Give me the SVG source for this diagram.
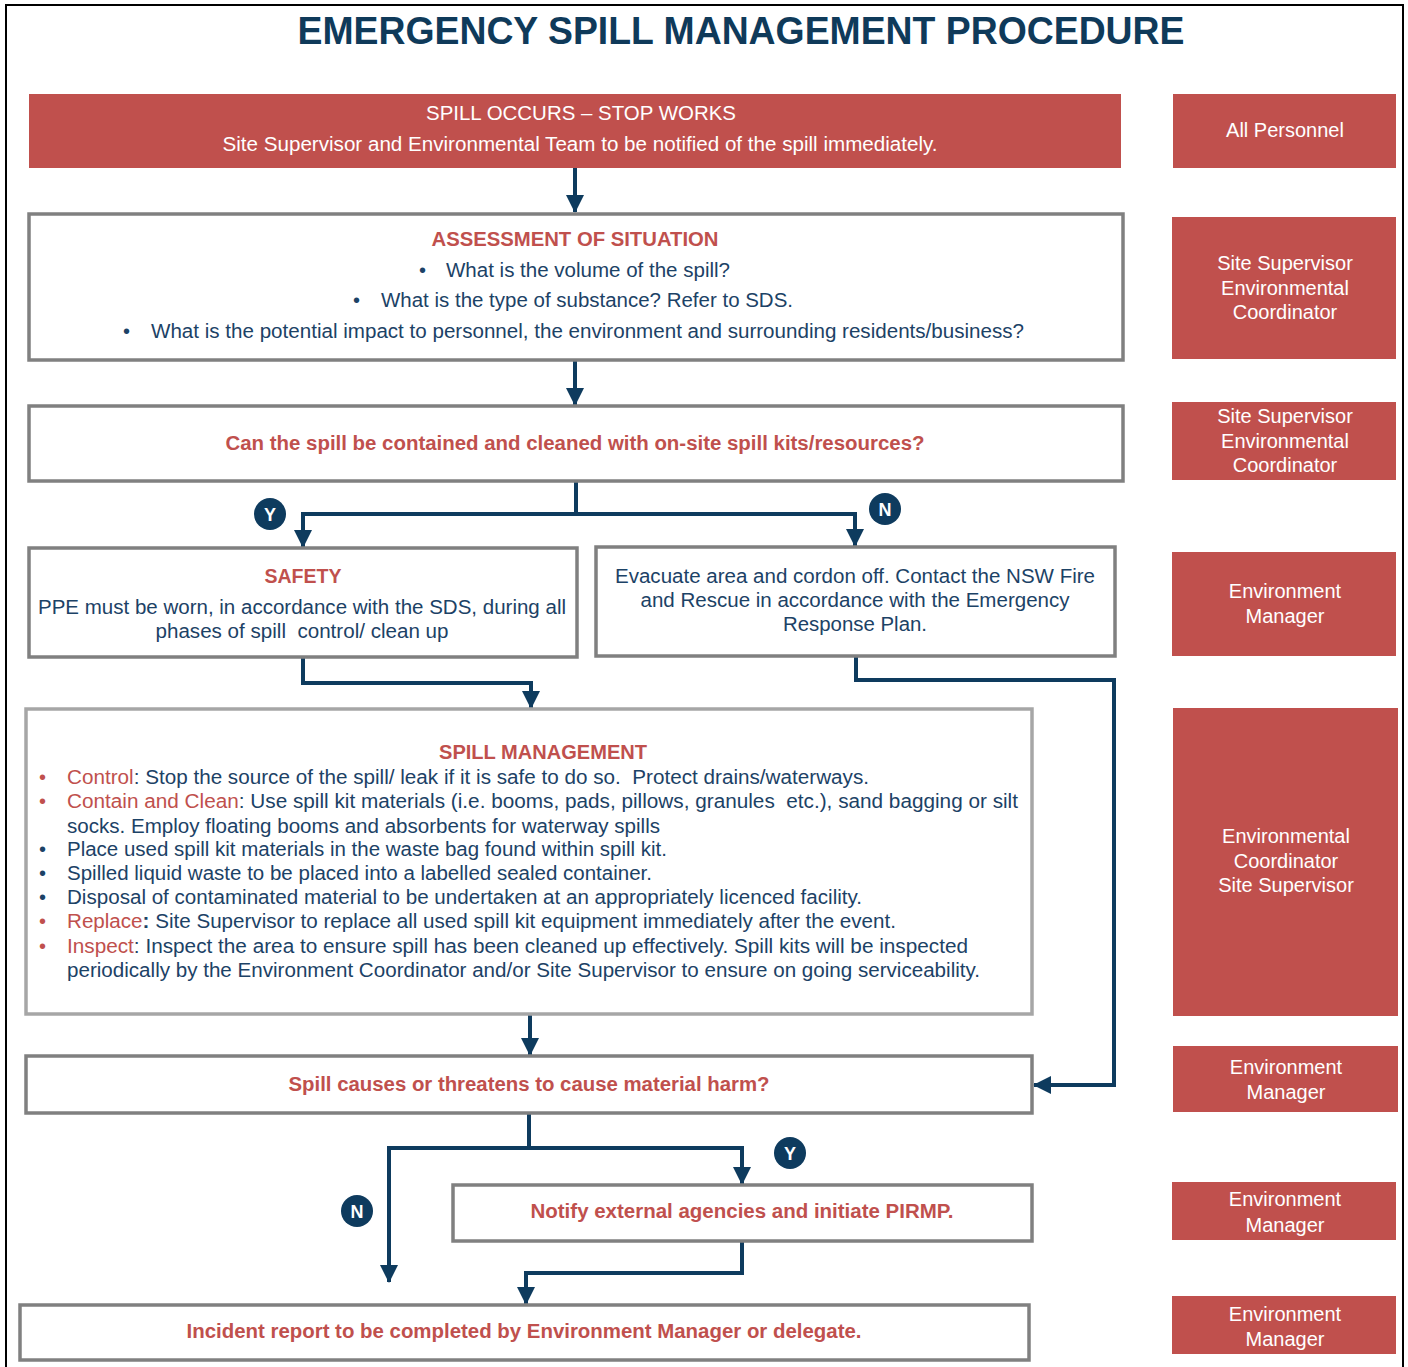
<svg xmlns="http://www.w3.org/2000/svg" width="1408" height="1367" viewBox="0 0 1408 1367">
<style>
.bg{fill:#ffffff}
.frame{fill:none;stroke:#000;stroke-width:2}
.title{font-family:"Liberation Sans",Arial,sans-serif;font-weight:bold;font-size:38px;fill:#0f3a5a}
.red{fill:#c0504d}
.role{font-family:"Liberation Sans",Arial,sans-serif;font-size:20px;fill:#ffffff}
.hdr{font-family:"Liberation Sans",Arial,sans-serif;font-size:20px;fill:#ffffff}
.box{fill:#ffffff;stroke:#808080;stroke-width:3.5}
.box2{fill:#ffffff;stroke:#a6a6a6;stroke-width:3.5}
.t{font-family:"Liberation Sans",Arial,sans-serif;font-size:20px;fill:#1c4266}
.rt{font-family:"Liberation Sans",Arial,sans-serif;font-size:20px;fill:#c0504d}
.rh{font-family:"Liberation Sans",Arial,sans-serif;font-size:20px;font-weight:bold;fill:#c0504d}
.rb{font-family:"Liberation Sans",Arial,sans-serif;font-size:20px;font-weight:bold;fill:#c0504d}
.k{fill:#c0504d}
.conn{fill:none;stroke:#0e3b5e;stroke-width:4;stroke-linejoin:miter}
.badge{fill:#0e3b5e}
.bt{font-family:"Liberation Sans",Arial,sans-serif;font-size:18px;font-weight:bold;fill:#ffffff}
</style>
<defs>
<marker id="ah" markerUnits="userSpaceOnUse" markerWidth="18" markerHeight="18" refX="17" refY="9" orient="auto">
<path d="M0,0 L18,9 L0,18 z" fill="#0e3b5e"/>
</marker>
</defs>
<rect class="bg" x="0" y="0" width="1408" height="1367"/>
<path class="frame" d="M6,1367 V5 H1403 V1367"/>
<text class="title" x="741" y="44" text-anchor="middle" textLength="887" lengthAdjust="spacingAndGlyphs">EMERGENCY SPILL MANAGEMENT PROCEDURE</text>

<g id="connectors">
<path class="conn" d="M575,168 V212" marker-end="url(#ah)"/>
<path class="conn" d="M575,360 V405" marker-end="url(#ah)"/>
<path class="conn" d="M576,481 V514 H303 V547" marker-end="url(#ah)"/>
<path class="conn" d="M576,514 H855 V546" marker-end="url(#ah)"/>
<path class="conn" d="M303,657 V683 H531 V708" marker-end="url(#ah)"/>
<path class="conn" d="M856,656 V680 H1114 V1085 H1034" marker-end="url(#ah)"/>
<path class="conn" d="M530,1014 V1055" marker-end="url(#ah)"/>
<path class="conn" d="M529,1113 V1148 H742 V1184" marker-end="url(#ah)"/>
<path class="conn" d="M529,1148 H389 V1282" marker-end="url(#ah)"/>
<path class="conn" d="M742,1241 V1273 H526 V1304" marker-end="url(#ah)"/>
<circle class="badge" cx="270" cy="514" r="16"/>
<text class="bt" x="270" y="521" text-anchor="middle">Y</text>
<circle class="badge" cx="885" cy="509" r="16"/>
<text class="bt" x="885" y="516" text-anchor="middle">N</text>
<circle class="badge" cx="790" cy="1153" r="16"/>
<text class="bt" x="790" y="1160" text-anchor="middle">Y</text>
<circle class="badge" cx="357" cy="1211" r="16"/>
<text class="bt" x="357" y="1218" text-anchor="middle">N</text>
</g>

<g id="spill-occurs">
<rect class="red" x="29" y="94" width="1092" height="74"/>
<text class="hdr" x="581" y="120" text-anchor="middle" textLength="310" lengthAdjust="spacingAndGlyphs">SPILL OCCURS – STOP WORKS</text>
<text class="hdr" x="580" y="151" text-anchor="middle" textLength="715" lengthAdjust="spacingAndGlyphs">Site Supervisor and Environmental Team to be notified of the spill immediately.</text>
</g>

<g id="assessment">
<rect class="box" x="29" y="214" width="1094" height="146"/>
<text class="rh" x="575" y="246" text-anchor="middle" textLength="287" lengthAdjust="spacingAndGlyphs">ASSESSMENT OF SITUATION</text>
<text class="t" x="419" y="277">•</text>
<text class="t" x="446" y="277" textLength="284" lengthAdjust="spacingAndGlyphs">What is the volume of the spill?</text>
<text class="t" x="353" y="307">•</text>
<text class="t" x="381" y="307" textLength="412" lengthAdjust="spacingAndGlyphs">What is the type of substance? Refer to SDS.</text>
<text class="t" x="123" y="338">•</text>
<text class="t" x="151" y="338" textLength="873" lengthAdjust="spacingAndGlyphs">What is the potential impact to personnel, the environment and surrounding residents/business?</text>
</g>

<g id="contain-decision">
<rect class="box" x="29" y="406" width="1094" height="75"/>
<text class="rb" x="575" y="450" text-anchor="middle" textLength="699" lengthAdjust="spacingAndGlyphs">Can the spill be contained and cleaned with on-site spill kits/resources?</text>
</g>

<g id="safety">
<rect class="box" x="29" y="548" width="548" height="109"/>
<text class="rh" x="303" y="583" text-anchor="middle" textLength="77" lengthAdjust="spacingAndGlyphs">SAFETY</text>
<text class="t" x="302" y="614" text-anchor="middle" textLength="528" lengthAdjust="spacingAndGlyphs">PPE must be worn, in accordance with the SDS, during all</text>
<text class="t" x="302" y="638" text-anchor="middle" xml:space="preserve" textLength="293" lengthAdjust="spacingAndGlyphs">phases of spill  control/ clean up</text>
</g>

<g id="evacuate">
<rect class="box" x="596" y="547" width="519" height="109"/>
<text class="t" x="855" y="583" text-anchor="middle" textLength="480" lengthAdjust="spacingAndGlyphs">Evacuate area and cordon off. Contact the NSW Fire</text>
<text class="t" x="855" y="607" text-anchor="middle" textLength="429" lengthAdjust="spacingAndGlyphs">and Rescue in accordance with the Emergency</text>
<text class="t" x="855" y="631" text-anchor="middle" textLength="144" lengthAdjust="spacingAndGlyphs">Response Plan.</text>
</g>

<g id="spill-management">
<rect class="box2" x="26" y="709" width="1006" height="305"/>
<text class="rh" x="543" y="759" text-anchor="middle" textLength="208" lengthAdjust="spacingAndGlyphs">SPILL MANAGEMENT</text>
<text class="rt" x="39" y="784">•</text>
<text class="t" x="67" y="784" xml:space="preserve" textLength="802" lengthAdjust="spacingAndGlyphs"><tspan class="k">Control</tspan>: Stop the source of the spill/ leak if it is safe to do so.  Protect drains/waterways.</text>
<text class="rt" x="39" y="808">•</text>
<text class="t" x="67" y="808" xml:space="preserve" textLength="951" lengthAdjust="spacingAndGlyphs"><tspan class="k">Contain and Clean</tspan>: Use spill kit materials (i.e. booms, pads, pillows, granules  etc.), sand bagging or silt</text>
<text class="t" x="67" y="833" textLength="593" lengthAdjust="spacingAndGlyphs">socks. Employ floating booms and absorbents for waterway spills</text>
<text class="t" x="39" y="856">•</text>
<text class="t" x="67" y="856" textLength="600" lengthAdjust="spacingAndGlyphs">Place used spill kit materials in the waste bag found within spill kit.</text>
<text class="t" x="39" y="880">•</text>
<text class="t" x="67" y="880" textLength="585" lengthAdjust="spacingAndGlyphs">Spilled liquid waste to be placed into a labelled sealed container.</text>
<text class="t" x="39" y="904">•</text>
<text class="t" x="67" y="904" textLength="795" lengthAdjust="spacingAndGlyphs">Disposal of contaminated material to be undertaken at an appropriately licenced facility.</text>
<text class="rt" x="39" y="928">•</text>
<text class="t" x="67" y="928" textLength="829" lengthAdjust="spacingAndGlyphs"><tspan class="k">Replace</tspan><tspan font-weight="bold">:</tspan> Site Supervisor to replace all used spill kit equipment immediately after the event.</text>
<text class="rt" x="39" y="953">•</text>
<text class="t" x="67" y="953" textLength="901" lengthAdjust="spacingAndGlyphs"><tspan class="k">Inspect</tspan>: Inspect the area to ensure spill has been cleaned up effectively. Spill kits will be inspected</text>
<text class="t" x="67" y="977" textLength="913" lengthAdjust="spacingAndGlyphs">periodically by the Environment Coordinator and/or Site Supervisor to ensure on going serviceability.</text>
</g>

<g id="material-harm">
<rect class="box" x="26" y="1056" width="1006" height="57"/>
<text class="rb" x="529" y="1091" text-anchor="middle" textLength="481" lengthAdjust="spacingAndGlyphs">Spill causes or threatens to cause material harm?</text>
</g>

<g id="notify">
<rect class="box" x="453" y="1185" width="579" height="56"/>
<text class="rb" x="742" y="1218" text-anchor="middle" textLength="423" lengthAdjust="spacingAndGlyphs">Notify external agencies and initiate PIRMP.</text>
</g>

<g id="incident-report">
<rect class="box" x="20" y="1305" width="1009" height="55"/>
<text class="rb" x="524" y="1338" text-anchor="middle" textLength="675" lengthAdjust="spacingAndGlyphs">Incident report to be completed by Environment Manager or delegate.</text>
</g>

<g id="role-1">
<rect class="red" x="1173" y="94" width="223" height="74"/>
<text class="role" x="1285" y="137" text-anchor="middle">All Personnel</text>
</g>
<g id="role-2">
<rect class="red" x="1172" y="217" width="224" height="142"/>
<text class="role" x="1285" y="270" text-anchor="middle">Site Supervisor</text>
<text class="role" x="1285" y="295" text-anchor="middle">Environmental</text>
<text class="role" x="1285" y="319" text-anchor="middle">Coordinator</text>
</g>
<g id="role-3">
<rect class="red" x="1172" y="402" width="224" height="78"/>
<text class="role" x="1285" y="423" text-anchor="middle">Site Supervisor</text>
<text class="role" x="1285" y="448" text-anchor="middle">Environmental</text>
<text class="role" x="1285" y="472" text-anchor="middle">Coordinator</text>
</g>
<g id="role-4">
<rect class="red" x="1172" y="552" width="224" height="104"/>
<text class="role" x="1285" y="598" text-anchor="middle">Environment</text>
<text class="role" x="1285" y="623" text-anchor="middle">Manager</text>
</g>
<g id="role-5">
<rect class="red" x="1173" y="708" width="225" height="308"/>
<text class="role" x="1286" y="843" text-anchor="middle">Environmental</text>
<text class="role" x="1286" y="868" text-anchor="middle">Coordinator</text>
<text class="role" x="1286" y="892" text-anchor="middle">Site Supervisor</text>
</g>
<g id="role-6">
<rect class="red" x="1173" y="1046" width="225" height="66"/>
<text class="role" x="1286" y="1074" text-anchor="middle">Environment</text>
<text class="role" x="1286" y="1099" text-anchor="middle">Manager</text>
</g>
<g id="role-7">
<rect class="red" x="1172" y="1182" width="224" height="58"/>
<text class="role" x="1285" y="1206" text-anchor="middle">Environment</text>
<text class="role" x="1285" y="1232" text-anchor="middle">Manager</text>
</g>
<g id="role-8">
<rect class="red" x="1172" y="1296" width="224" height="58"/>
<text class="role" x="1285" y="1321" text-anchor="middle">Environment</text>
<text class="role" x="1285" y="1346" text-anchor="middle">Manager</text>
</g>
</svg>
